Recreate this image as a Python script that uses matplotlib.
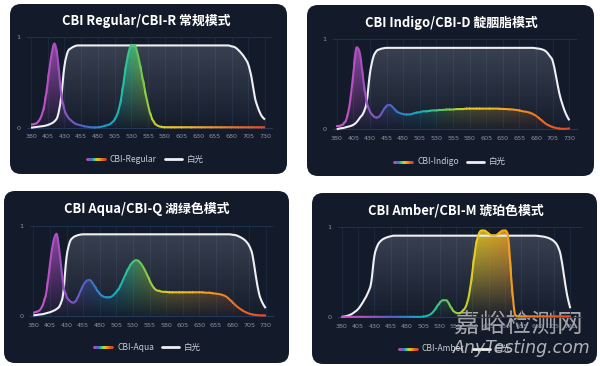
import numpy as np
import matplotlib
matplotlib.use("Agg")
import matplotlib.pyplot as plt
from matplotlib.patches import FancyBboxPatch, PathPatch, Rectangle
from matplotlib.collections import LineCollection
from matplotlib.colors import LinearSegmentedColormap
from matplotlib.path import Path

# ---------------- data ----------------
wavelengths = np.arange(380, 731, 5)          # category axis (nm)
tick_labels = [380, 405, 430, 455, 480, 505, 530, 555, 580, 605, 630, 655, 680, 705, 730]

titles = ["CBI Regular/CBI-R 常规模式", "CBI Indigo/CBI-D 靛胭脂模式",
          "CBI Aqua/CBI-Q 湖绿色模式", "CBI Amber/CBI-M 琥珀色模式"]
series_names = ["CBI-Regular", "CBI-Indigo", "CBI-Aqua", "CBI-Amber"]
white_name = "白光"

white_regular = [0.00, 0.005, 0.01, 0.015, 0.02, 0.03, 0.045, 0.07, 0.13, 0.33, 0.68, 0.84, 0.88, 0.90, 0.91,
                 0.91, 0.91, 0.91, 0.91, 0.91, 0.91, 0.91, 0.91, 0.91, 0.91, 0.91, 0.91, 0.91, 0.91, 0.91,
                 0.91, 0.91, 0.91, 0.91, 0.91, 0.91, 0.91, 0.91, 0.91, 0.91, 0.91, 0.91, 0.91, 0.91, 0.91,
                 0.91, 0.91, 0.91, 0.91, 0.91, 0.91, 0.91, 0.91, 0.91, 0.91, 0.91, 0.91, 0.91, 0.91, 0.91,
                 0.90, 0.89, 0.86, 0.82, 0.77, 0.70, 0.55, 0.33, 0.21, 0.13, 0.09]
cbi_regular = [0.035, 0.04, 0.06, 0.12, 0.25, 0.50, 0.78, 0.93, 0.76, 0.38, 0.20, 0.12, 0.08, 0.05, 0.035,
               0.025, 0.015, 0.01, 0.005, 0.003, 0.005, 0.01, 0.02, 0.03, 0.05, 0.09, 0.17, 0.33, 0.58, 0.80,
               0.91, 0.91, 0.80, 0.62, 0.43, 0.25, 0.12, 0.05, 0.02, 0.01, 0.005, 0.005, 0.005, 0.005, 0.005,
               0.005, 0.005, 0.005, 0.005, 0.005, 0.005, 0.005, 0.005, 0.005, 0.005, 0.005, 0.005, 0.005, 0.005,
               0.005, 0.005, 0.005, 0.005, 0.005, 0.005, 0.005, 0.005, 0.005, 0.005, 0.005, 0.005]

white_indigo = [0.00, 0.01, 0.015, 0.025, 0.035, 0.05, 0.08, 0.13, 0.18, 0.30, 0.62, 0.80, 0.87, 0.89, 0.90,
                0.905, 0.905, 0.905, 0.905, 0.905, 0.905, 0.905, 0.905, 0.905, 0.905, 0.905, 0.905, 0.905, 0.905, 0.905,
                0.905, 0.905, 0.905, 0.905, 0.905, 0.905, 0.905, 0.905, 0.905, 0.905, 0.905, 0.905, 0.905, 0.905, 0.905,
                0.905, 0.905, 0.905, 0.905, 0.905, 0.905, 0.905, 0.905, 0.905, 0.905, 0.905, 0.905, 0.905, 0.905, 0.905,
                0.90, 0.895, 0.885, 0.865, 0.82, 0.76, 0.59, 0.40, 0.27, 0.17, 0.10]
cbi_indigo = [0.035, 0.04, 0.06, 0.12, 0.30, 0.62, 0.91, 0.84, 0.55, 0.31, 0.20, 0.15, 0.13, 0.15, 0.21,
              0.26, 0.27, 0.24, 0.20, 0.18, 0.17, 0.165, 0.165, 0.175, 0.185, 0.19, 0.20, 0.20, 0.205, 0.21,
              0.21, 0.215, 0.215, 0.22, 0.22, 0.22, 0.225, 0.225, 0.225, 0.23, 0.23, 0.23, 0.23, 0.23, 0.23,
              0.23, 0.23, 0.23, 0.23, 0.228, 0.226, 0.225, 0.222, 0.22, 0.215, 0.21, 0.20, 0.195, 0.185, 0.17,
              0.15, 0.12, 0.09, 0.06, 0.04, 0.025, 0.015, 0.008, 0.005, 0.006, 0.01]

white_aqua = [0.01, 0.015, 0.02, 0.025, 0.035, 0.045, 0.06, 0.08, 0.12, 0.25, 0.65, 0.82, 0.87, 0.89, 0.90,
              0.905, 0.905, 0.905, 0.905, 0.905, 0.905, 0.905, 0.905, 0.905, 0.905, 0.905, 0.905, 0.905, 0.905, 0.905,
              0.905, 0.905, 0.905, 0.905, 0.905, 0.905, 0.905, 0.905, 0.905, 0.905, 0.905, 0.905, 0.905, 0.905, 0.905,
              0.905, 0.905, 0.905, 0.905, 0.905, 0.905, 0.905, 0.905, 0.905, 0.905, 0.905, 0.905, 0.905, 0.905, 0.905,
              0.90, 0.895, 0.88, 0.86, 0.83, 0.78, 0.68, 0.45, 0.25, 0.15, 0.09]
cbi_aqua = [0.04, 0.05, 0.07, 0.14, 0.28, 0.57, 0.82, 0.91, 0.68, 0.35, 0.22, 0.17, 0.15, 0.18, 0.26,
            0.34, 0.39, 0.40, 0.36, 0.30, 0.25, 0.22, 0.21, 0.21, 0.23, 0.27, 0.32, 0.40, 0.48, 0.55,
            0.60, 0.62, 0.60, 0.55, 0.48, 0.40, 0.33, 0.29, 0.28, 0.27, 0.27, 0.265, 0.265, 0.265, 0.265,
            0.265, 0.265, 0.265, 0.265, 0.265, 0.265, 0.265, 0.26, 0.26, 0.255, 0.25, 0.245, 0.235, 0.22, 0.19,
            0.155, 0.12, 0.09, 0.065, 0.045, 0.03, 0.02, 0.015, 0.012, 0.01, 0.01]

white_amber = [0.005, 0.01, 0.02, 0.035, 0.06, 0.09, 0.14, 0.20, 0.27, 0.38, 0.68, 0.80, 0.85, 0.875, 0.89,
               0.90, 0.907, 0.907, 0.907, 0.907, 0.907, 0.907, 0.907, 0.907, 0.907, 0.907, 0.907, 0.907, 0.907, 0.907,
               0.907, 0.907, 0.907, 0.907, 0.907, 0.907, 0.907, 0.907, 0.907, 0.907, 0.907, 0.907, 0.907, 0.907, 0.907,
               0.907, 0.907, 0.907, 0.907, 0.907, 0.907, 0.907, 0.907, 0.907, 0.907, 0.907, 0.907, 0.907, 0.907, 0.907,
               0.905, 0.90, 0.895, 0.885, 0.87, 0.845, 0.80, 0.70, 0.48, 0.25, 0.10]
cbi_amber = [0.005, 0.005, 0.005, 0.005, 0.005, 0.005, 0.005, 0.005, 0.005, 0.005, 0.005, 0.005, 0.005, 0.005, 0.005,
             0.005, 0.005, 0.005, 0.005, 0.005, 0.005, 0.005, 0.005, 0.005, 0.005, 0.008, 0.015, 0.03, 0.06, 0.11,
             0.16, 0.19, 0.19, 0.14, 0.08, 0.05, 0.045, 0.07, 0.12, 0.25, 0.50, 0.78, 0.93, 0.965, 0.96,
             0.93, 0.91, 0.91, 0.93, 0.96, 0.965, 0.88, 0.40, 0.04, 0.01, 0.01, 0.01, 0.01, 0.01, 0.01,
             0.01, 0.01, 0.01, 0.01, 0.01, 0.01, 0.01, 0.01, 0.01, 0.01, 0.01]

white_series = [white_regular, white_indigo, white_aqua, white_amber]
cbi_series = [cbi_regular, cbi_indigo, cbi_aqua, cbi_amber]

# ---------------- layout (pixels) ----------------
W, H = 600, 366
panel_boxes = [(10, 4, 287, 174), (307, 5, 594, 176), (4, 191, 289, 363), (312, 193, 597, 364)]
axes_px = [(27, 272, 31, 265, 127.7, 37.3),
           (333, 576.7, 336.7, 569.3, 129.3, 39.3),
           (30, 273, 33.3, 265.7, 316.3, 225.7),
           (338, 581.7, 341.7, 570.3, 317.3, 227.3)]
title_pos = [(146, 20.7), (451.7, 23.3), (146.7, 209), (455.7, 210.3)]
legend_pos = [(87, 159.3), (394, 161.7), (94, 347), (399, 348.7)]

PANEL = "#131a2a"
spec_cmap = LinearSegmentedColormap.from_list("spec", [
    (0.00, "#c45ac6"), (0.09, "#b04fc0"), (0.17, "#7d58c2"), (0.23, "#4c62c8"),
    (0.30, "#2391c9"), (0.36, "#19adbb"), (0.41, "#2fc48f"), (0.47, "#6fc850"),
    (0.53, "#b9d12e"), (0.59, "#ecca1c"), (0.69, "#f2b01c"), (0.80, "#f08a22"),
    (0.91, "#ea6224"), (1.00, "#e04a2a")])

fig = plt.figure(figsize=(W / 100, H / 100), dpi=100)
fig.patch.set_facecolor("white")
bg = fig.add_axes([0, 0, 1, 1])
bg.set_xlim(0, W)
bg.set_ylim(H, 0)
bg.axis("off")

CJK = ["Noto Sans CJK SC", "DejaVu Sans"]
TICKF = ["Liberation Sans Narrow", "DejaVu Sans"]


def norm(v):
    return (np.asarray(v, float) - 380) / 350.0


def smooth_path(x, y, close_base=False):
    """Monotone cubic Bezier path through the data points (like a 'smooth' line)."""
    x = np.asarray(x, float)
    y = np.asarray(y, float)
    n = len(x)
    m = np.zeros(n)
    for k in range(n):
        if k == 0:
            m[k] = (y[1] - y[0]) / (x[1] - x[0])
        elif k == n - 1:
            m[k] = (y[-1] - y[-2]) / (x[-1] - x[-2])
        else:
            d0 = y[k] - y[k - 1]
            d1 = y[k + 1] - y[k]
            if d0 * d1 <= 0:
                m[k] = 0.0
            else:
                m[k] = (y[k + 1] - y[k - 1]) / (x[k + 1] - x[k - 1])
    verts = [(x[0], y[0])]
    codes = [Path.MOVETO]
    for k in range(n - 1):
        h = x[k + 1] - x[k]
        lo, hi = min(y[k], y[k + 1]), max(y[k], y[k + 1])
        c1y = min(max(y[k] + m[k] * h / 3, lo), hi)
        c2y = min(max(y[k + 1] - m[k + 1] * h / 3, lo), hi)
        verts += [(x[k] + h / 3, c1y), (x[k + 1] - h / 3, c2y), (x[k + 1], y[k + 1])]
        codes += [Path.CURVE4] * 3
    if close_base:
        verts += [(x[-1], 0), (x[0], 0), (x[0], y[0])]
        codes += [Path.LINETO, Path.LINETO, Path.CLOSEPOLY]
    return Path(verts, codes)


def gradient_fill(ax, x, y, colors_fn, zorder):
    nx, ny = 350, 200
    xs = np.linspace(380, 730, nx)
    ys = np.linspace(0, 1, ny)
    rgba = colors_fn(xs, ys)
    im = ax.imshow(rgba, extent=(380, 730, 0, 1), origin="lower", aspect="auto",
                   zorder=zorder, interpolation="bilinear")
    clip = PathPatch(smooth_path(x, y, close_base=True), facecolor="none", edgecolor="none",
                     transform=ax.transData)
    ax.add_patch(clip)
    im.set_clip_path(clip)


def spec_rgba(xs, ys):
    c = spec_cmap(norm(xs))
    rgba = np.zeros((len(ys), len(xs), 4))
    rgba[:, :, :3] = c[None, :, :3]
    rgba[:, :, 3] = (0.04 + 0.86 * ys ** 1.1)[:, None]
    return rgba


def white_rgba(xs, ys):
    rgba = np.zeros((len(ys), len(xs), 4))
    rgba[:, :, 0] = 0.80
    rgba[:, :, 1] = 0.83
    rgba[:, :, 2] = 0.90
    rgba[:, :, 3] = (0.01 + 0.22 * ys)[:, None]
    return rgba


for i in range(4):
    x0, y0, x1, y1 = panel_boxes[i]
    bg.add_patch(FancyBboxPatch((x0, y0), x1 - x0, y1 - y0,
                                boxstyle="round,pad=0,rounding_size=11",
                                facecolor=PANEL, edgecolor="none", zorder=1))
    tx, ty = title_pos[i]
    bg.text(tx, ty, titles[i], color="white", fontsize=9.3, fontweight="bold",
            family=CJK, ha="center", va="center", zorder=5)

    # legend
    lx, ly = legend_pos[i]
    lxs = np.linspace(lx, lx + 18, 30)
    segs = [[(lxs[k], ly), (lxs[k + 1], ly)] for k in range(len(lxs) - 1)]
    lc = LineCollection(segs, colors=spec_cmap(np.linspace(0, 1, len(segs))), linewidths=2.0,
                        capstyle="round", zorder=5)
    bg.add_collection(lc)
    t = bg.text(lx + 23, ly, series_names[i], color="#c9cdd6", fontsize=6.1, family=CJK,
                ha="left", va="center", zorder=5)
    fig.canvas.draw()
    bb = t.get_window_extent()
    wx0 = bb.x1 + 8
    bg.plot([wx0, wx0 + 17], [ly, ly], color="#eef0f4", lw=2.0, solid_capstyle="round", zorder=5)
    bg.text(wx0 + 22, ly, white_name, color="#c9cdd6", fontsize=6.1, family=CJK,
            ha="left", va="center", zorder=5)

    # plot axes
    L, R, a, b, py0, py1 = axes_px[i]
    ax = fig.add_axes([L / W, 1 - py0 / H, (R - L) / W, (py0 - py1) / H])
    ax.set_facecolor("none")
    ax.set_zorder(3)
    scale = 350.0 / (b - a)
    x = wavelengths
    wy = np.asarray(white_series[i])
    cy = np.asarray(cbi_series[i])

    for tk in tick_labels:
        ax.axvline(tk, color="#1b2a40", lw=0.6, zorder=0.5)
    ax.axhline(1, color="#1c3350", lw=0.7, zorder=0.5)

    gradient_fill(ax, x, wy, white_rgba, 1)
    wp = PathPatch(smooth_path(x, wy), facecolor="none", edgecolor="#eef0f4", lw=1.5,
                   zorder=4, clip_on=False)
    ax.add_patch(wp)
    gradient_fill(ax, x, cy, spec_rgba, 2)

    cpath = smooth_path(x, cy)
    for k in range(len(x) - 1):
        col = spec_cmap(norm((x[k] + x[k + 1]) / 2))
        pp = PathPatch(cpath, facecolor="none", edgecolor=col, lw=1.5, zorder=5,
                       capstyle="round", joinstyle="round")
        ax.add_patch(pp)
        pad = 0.4
        rect = Rectangle((x[k] - pad, -0.2), (x[k + 1] - x[k]) + 2 * pad, 1.5,
                         transform=ax.transData)
        pp.set_clip_path(rect)

    ax.set_xlim(380 - (a - L) * scale, 730 + (R - b) * scale)
    ax.set_ylim(0, 1)
    for s in ["top", "right", "left"]:
        ax.spines[s].set_visible(False)
    ax.spines["bottom"].set_color("#24395a")
    ax.spines["bottom"].set_linewidth(0.8)
    ax.spines["bottom"].set_zorder(0.6)
    ax.set_xticks(tick_labels)
    ax.set_xticklabels([str(v) for v in tick_labels], family=TICKF, fontsize=4.6, color="#8b93a6")
    ax.set_yticks([0, 1])
    ax.set_yticklabels(["0", "1"], family=TICKF, fontsize=4.6, color="#8b93a6")
    ax.tick_params(axis="both", length=0, pad=4.5)

# watermark
bg.text(518, 326, "嘉峪检测网", color="#d4d4d4", alpha=0.75, fontsize=18.5, family=CJK,
        ha="center", va="center", zorder=10)
fig.text(522 / W, 1 - 348 / H, "AnyTesting.com", color="#d8d8d8", alpha=0.8, fontsize=12.5,
         style="italic", family=["DejaVu Sans"], ha="center", va="center", zorder=10)

fig.savefig("out.png", dpi=100, facecolor="white")
